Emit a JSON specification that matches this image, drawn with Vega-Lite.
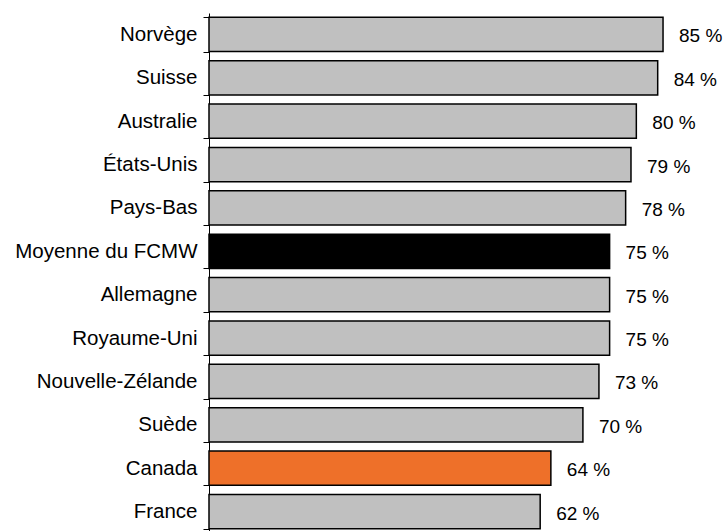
{
  "$schema": "https://vega.github.io/schema/vega-lite/v6.json",
  "autosize": {"type": "none"},
  "padding": {"left": 209, "top": 13, "right": 0, "bottom": 0},
  "width": 516,
  "height": 520,
  "background": "white",
  "config": {"view": {"stroke": null}, "font": "Liberation Sans"},
  "data": {"values": [
    {"pays": "Norvège", "valeur": 85, "label": "85 %", "groupe": "autre"},
    {"pays": "Suisse", "valeur": 84, "label": "84 %", "groupe": "autre"},
    {"pays": "Australie", "valeur": 80, "label": "80 %", "groupe": "autre"},
    {"pays": "États-Unis", "valeur": 79, "label": "79 %", "groupe": "autre"},
    {"pays": "Pays-Bas", "valeur": 78, "label": "78 %", "groupe": "autre"},
    {"pays": "Moyenne du FCMW", "valeur": 75, "label": "75 %", "groupe": "moyenne"},
    {"pays": "Allemagne", "valeur": 75, "label": "75 %", "groupe": "autre"},
    {"pays": "Royaume-Uni", "valeur": 75, "label": "75 %", "groupe": "autre"},
    {"pays": "Nouvelle-Zélande", "valeur": 73, "label": "73 %", "groupe": "autre"},
    {"pays": "Suède", "valeur": 70, "label": "70 %", "groupe": "autre"},
    {"pays": "Canada", "valeur": 64, "label": "64 %", "groupe": "canada"},
    {"pays": "France", "valeur": 62, "label": "62 %", "groupe": "autre"}
  ]},
  "encoding": {
    "y": {
      "field": "pays", "type": "nominal", "sort": null,
      "scale": {"paddingInner": 0.21, "paddingOuter": 0.1},
      "axis": {
        "title": null, "domainColor": "black", "domainWidth": 1, "tickColor": "black",
        "tickBand": "extent", "tickSize": 6, "labelPadding": 6, "labelFontSize": 20.5,
        "labelColor": "black", "labelFont": "Liberation Sans", "labelLimit": 300
      }
    },
    "x": {
      "field": "valeur", "type": "quantitative",
      "scale": {"domain": [0, 96.6], "nice": false},
      "axis": null
    }
  },
  "layer": [
    {
      "mark": {"type": "bar", "stroke": "black", "strokeWidth": 1.5},
      "encoding": {
        "color": {
          "field": "groupe", "type": "nominal", "legend": null,
          "scale": {"domain": ["autre", "moyenne", "canada"], "range": ["#c0c0c0", "#000000", "#ee7029"]}
        }
      }
    },
    {
      "mark": {"type": "text", "align": "left", "baseline": "middle", "dx": 16, "dy": 2, "fontSize": 19, "color": "black"},
      "encoding": {"text": {"field": "label"}}
    }
  ]
}
